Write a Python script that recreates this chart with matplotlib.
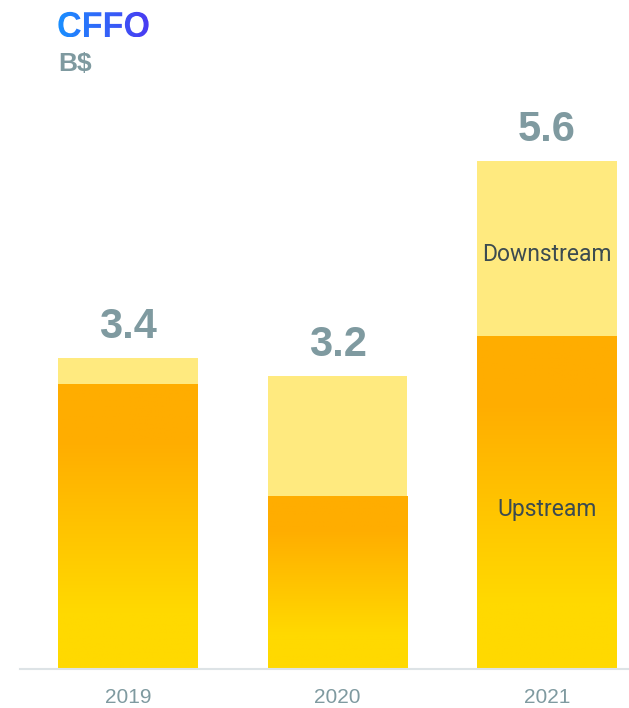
import numpy as np
import matplotlib.pyplot as plt
from matplotlib.patches import PathPatch, Rectangle
from matplotlib.textpath import TextPath
from matplotlib.font_manager import FontProperties
from matplotlib.transforms import Affine2D
from matplotlib.colors import to_rgb

# =========================
# DATOS
# =========================
years = ['2019', '2020', '2021']
upstream = [3.14, 1.91, 3.67]
downstream = [0.29, 1.32, 1.93]
totals = ['3.4', '3.2', '5.6']

# =========================
# ESTILO
# =========================
c_orange = '#FFAD00'
c_yellow = '#FFD900'
c_down = '#FFEA7F'
c_grey = '#7F9AA0'
c_text = '#3C4B50'
c_axis = '#DDE3E6'

W, H = 629, 708
fig = plt.figure(figsize=(W/100, H/100), dpi=100)

px_unit = 90.7        # pixeles por B$
base_px = 669         # linea base en pixeles (desde arriba)
x_left = 20

ax = fig.add_axes([x_left/W, (H - base_px)/H, (W - x_left)/W, base_px/H])

x = np.arange(len(years))
bw = 0.668

# gradiente vertical (arriba naranja -> abajo amarillo)
n = 200
t = np.linspace(0, 1, n)
f = np.clip((t - 0.2) / 0.6, 0, 1)[:, None]
grad = (1 - f) * np.array(to_rgb(c_orange)) + f * np.array(to_rgb(c_yellow))
grad = grad[:, None, :]

for i in range(len(years)):
    # upstream con gradiente
    rect = Rectangle((x[i] - bw/2, 0), bw, upstream[i], facecolor='none',
                     edgecolor='none')
    ax.add_patch(rect)
    im = ax.imshow(grad, extent=(x[i] - bw/2, x[i] + bw/2, 0, upstream[i]),
                   aspect='auto', origin='upper', zorder=2)
    im.set_clip_path(rect)

ax.bar(x, downstream, bw, bottom=upstream, color=c_down, zorder=2)

for i in range(len(years)):
    tot = upstream[i] + downstream[i]
    ax.annotate(totals[i], (x[i], tot), xytext=(0, 20),
                textcoords='offset pixels', ha='center', va='baseline',
                fontsize=30, fontweight='bold', color=c_grey,
                family='Liberation Sans')

# etiquetas de segmentos en 2021
ax.text(x[2], upstream[2] / 2 - 0.08, 'Upstream', ha='center', va='center',
        fontsize=16.5, color=c_text, family='Roboto', zorder=3)
ax.text(x[2], upstream[2] + downstream[2] / 2 - 0.06, 'Downstream',
        ha='center', va='center', fontsize=16.5, color=c_text,
        family='Roboto', zorder=3)

ax.set_xlim(-(128 - x_left) / 209.5, 2 + (W - 547) / 209.5)
ax.set_ylim(0, base_px / px_unit)

for s in ['top', 'right', 'left']:
    ax.spines[s].set_visible(False)
ax.spines['bottom'].set_color(c_axis)
ax.spines['bottom'].set_linewidth(1.5)
ax.set_yticks([])
ax.set_xticks(x)
ax.set_xticklabels(years, fontsize=15, color=c_grey, family='Liberation Sans')
ax.tick_params(axis='x', length=0, pad=14)

# =========================
# TITULO CON GRADIENTE
# =========================
ov = fig.add_axes([0, 0, 1, 1])
ov.set_xlim(0, W)
ov.set_ylim(0, H)
ov.axis('off')

fp = FontProperties(family='Liberation Sans', weight='bold')
tp = TextPath((0, 0), 'CFFO', size=36, prop=fp)
tp = Affine2D().scale(0.95, 1).translate(57, H - 37).transform_path(tp)
patch = PathPatch(tp, facecolor='none', edgecolor='none')
ov.add_patch(patch)
bb = tp.get_extents()
hg = np.linspace(0, 1, 200)[None, :, None]
tgrad = (1 - hg) * np.array(to_rgb('#1A8FFF')) + hg * np.array(to_rgb('#4A3AF2'))
tim = ov.imshow(tgrad, extent=(bb.x0, bb.x1, bb.y0, bb.y1), aspect='auto')
tim.set_clip_path(patch)
ov.set_xlim(0, W)
ov.set_ylim(0, H)

fig.text(58/W, 1 - 71/H, 'B$', fontsize=19, fontweight='bold', color=c_grey,
         family='Liberation Sans', va='baseline', ha='left')

plt.savefig('out.png', dpi=100)
